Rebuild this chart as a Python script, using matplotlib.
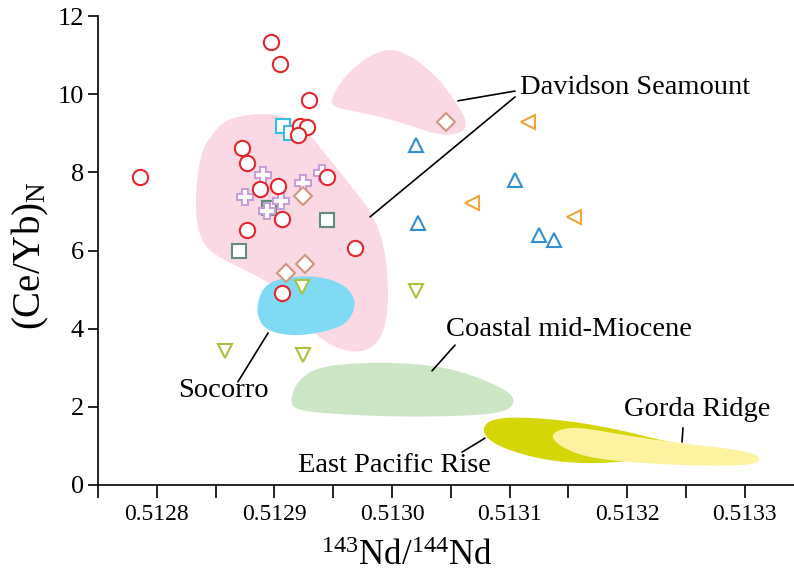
# Ce/Yb vs 143Nd/144Nd with source fields
import numpy as np
import matplotlib
matplotlib.use("Agg")
import matplotlib.pyplot as plt
from matplotlib.ticker import MultipleLocator

plt.rcParams['font.family'] = 'Liberation Serif'
plt.rcParams['mathtext.fontset'] = 'custom'
plt.rcParams['mathtext.rm'] = 'Liberation Serif'
plt.rcParams['mathtext.it'] = 'Liberation Serif:italic'

# sample groups: x = 143Nd/144Nd, y = (Ce/Yb)N
circ_x = [0.5128971, 0.5129048, 0.5129294, 0.5129218, 0.5129277, 0.5129201, 0.5128725, 0.5128767,
          0.5127857, 0.5129447, 0.5128878, 0.5129031, 0.5129065, 0.5128767, 0.5129685, 0.5129065]
circ_y = [11.34, 10.77, 9.85, 9.19, 9.16, 8.96, 8.62, 8.24,
          7.88, 7.88, 7.57, 7.65, 6.81, 6.53, 6.06, 4.91]

sqc_x = [0.5129073, 0.5129141]
sqc_y = [9.19, 9.01]

plus_x = [0.5128903, 0.5129243, 0.512875, 0.5129056, 0.5128937, 0.5129405]
plus_y = [7.93, 7.73, 7.37, 7.27, 7.01, 7.98]

sqg_x = [0.5128954, 0.5129447, 0.5128699]
sqg_y = [7.09, 6.78, 5.99]

dia_x = [0.5129243, 0.512926, 0.5129099, 0.5130459]
dia_y = [7.40, 5.66, 5.42, 9.29]

tdown_x = [0.5129235, 0.512858, 0.5129243, 0.5130204]
tdown_y = [5.07, 3.43, 3.33, 4.96]

tup_x = [0.5130204, 0.5131044, 0.5130221, 0.513125, 0.5131378]
tup_y = [8.70, 7.80, 6.70, 6.40, 6.27]

tleft_x = [0.5131157, 0.513068, 0.5131548]
tleft_y = [9.29, 7.22, 6.86]

# field outlines
dav_x = [0.512858, 0.5128793, 0.5129005, 0.5129175, 0.5129303, 0.5129473, 0.5129643, 0.5129813,
         0.5129923, 0.5129966, 0.5129966, 0.5129923, 0.5129813, 0.5129643, 0.5129473, 0.5129303,
         0.5129133, 0.5128963, 0.512875, 0.5128537, 0.5128393, 0.5128333, 0.5128333, 0.5128384,
         0.5128469]
dav_y = [9.34, 9.49, 9.49, 9.34, 8.96, 8.32, 7.68, 7.04,
         6.27, 5.37, 4.48, 3.84, 3.45, 3.40, 3.58, 3.97,
         4.73, 5.17, 5.50, 5.81, 6.14, 6.78, 7.68, 8.57,
         8.96]

dav2_x = [0.5129473, 0.51296, 0.5129813, 0.513, 0.5130196, 0.5130408, 0.5130561, 0.5130638,
          0.5130604, 0.5130408, 0.5130068, 0.5129728, 0.5129515]
dav2_y = [9.85, 10.49, 11.00, 11.18, 10.93, 10.36, 9.72, 9.29,
          9.01, 8.93, 9.29, 9.54, 9.65]

soc_x = [0.5128861, 0.512892, 0.512909, 0.5129345, 0.5129558, 0.5129677, 0.5129685, 0.51296,
         0.5129388, 0.5129133, 0.512892, 0.5128852]
soc_y = [4.73, 5.12, 5.32, 5.35, 5.19, 4.86, 4.48, 4.09,
         3.89, 3.81, 3.97, 4.35]

cmm_x = [0.5129133, 0.5129201, 0.5129388, 0.5129898, 0.5130408, 0.5130748, 0.5131003, 0.5131046,
         0.5130961, 0.5130663, 0.5130068, 0.5129473, 0.5129175]
cmm_y = [2.18, 2.69, 3.05, 3.15, 3.05, 2.74, 2.38, 2.10,
         1.87, 1.77, 1.74, 1.82, 1.92]

epr_x = [0.5130765, 0.513085, 0.5131088, 0.5131514, 0.5131939, 0.5132279, 0.5132619, 0.5132534,
         0.5132109, 0.5131726, 0.5131344, 0.5131003, 0.5130816]
epr_y = [1.46, 1.69, 1.74, 1.64, 1.41, 1.15, 0.95, 0.77,
         0.64, 0.54, 0.61, 0.87, 1.15]

gor_x = [0.5131344, 0.5131429, 0.5131599, 0.5132024, 0.5132449, 0.5132959, 0.5133146, 0.5133087,
         0.5132619, 0.5132109, 0.5131684, 0.5131446]
gor_y = [1.25, 1.43, 1.48, 1.25, 1.07, 0.90, 0.72, 0.51,
         0.49, 0.56, 0.69, 0.95]


def smooth(xs, ys, n=4):
    # Chaikin corner cutting on a closed outline
    pts = np.column_stack([xs, ys]).astype(float)
    for _ in range(n):
        nxt = np.roll(pts, -1, axis=0)
        q = 0.75 * pts + 0.25 * nxt
        r = 0.25 * pts + 0.75 * nxt
        out = np.empty((2 * len(pts), 2))
        out[0::2] = q
        out[1::2] = r
        pts = out
    return pts[:, 0], pts[:, 1]


fig = plt.figure(figsize=(7.94, 5.78), dpi=100)
ax = fig.add_axes([0.1234, 0.1609, 0.8766, 0.8114])

for fx, fy, col in [(dav_x, dav_y, '#fbd9e4'), (dav2_x, dav2_y, '#fbd9e4'),
                    (soc_x, soc_y, '#80daf4'), (cmm_x, cmm_y, '#cce6c5'),
                    (epr_x, epr_y, '#d4d606'), (gor_x, gor_y, '#fdf2a0')]:
    sx, sy = smooth(fx, fy)
    ax.fill(sx, sy, color=col, lw=0, zorder=1)

mk = dict(ls='none', mfc='white', mew=1.5, zorder=3)
ax.plot(sqg_x, sqg_y, 's', ms=10.5, mec='#5f8f7c', **mk)
ax.plot(plus_x, plus_y, 'P', ms=11, mec='#c79fd8', **mk)
ax.plot(dia_x, dia_y, 'D', ms=9, mec='#d39580', **mk)
ax.plot(sqc_x, sqc_y, 's', ms=10.5, mec='#33bfe0', **mk)
ax.plot(circ_x, circ_y, 'o', ms=11, mec='#e3262d', **mk)
ax.plot(tdown_x, tdown_y, 'v', ms=10, mec='#a9c23f', **mk)
ax.plot(tup_x, tup_y, '^', ms=10, mec='#2f8fd0', **mk)
ax.plot(tleft_x, tleft_y, '<', ms=10, mec='#f2a33a', **mk)

# labels and leader lines
fs = 20.5
ax.text(0.5131088, 10.16, 'Davidson Seamount', fontsize=fs, va='center', ha='left')
ax.text(0.5130459, 3.97, 'Coastal mid-Miocene', fontsize=fs, va='center', ha='left')
ax.text(0.512818, 2.43, 'Socorro', fontsize=fs, va='center', ha='left')
ax.text(0.51292, 0.49, 'East Pacific Rise', fontsize=fs, va='center', ha='left')
ax.text(0.5131973, 1.92, 'Gorda Ridge', fontsize=fs, va='center', ha='left')

leaders = [((0.5130561, 9.83), (0.5131046, 10.08)),
           ((0.5129813, 6.86), (0.5131046, 9.93)),
           ((0.513034, 2.92), (0.5130536, 3.58)),
           ((0.5128946, 3.89), (0.512869, 2.64)),
           ((0.5130791, 1.20), (0.5130595, 0.84)),
           ((0.5132474, 1.46), (0.5132466, 1.10))]
for a, b in leaders:
    ax.annotate('', xy=a, xytext=b, arrowprops=dict(arrowstyle='-', color='black', lw=1.2,
                                                     shrinkA=0, shrinkB=0), zorder=2)

ax.set_xlim(0.51275, 0.5133418)
ax.set_ylim(0, 12)
ax.spines['top'].set_visible(False)
ax.spines['right'].set_visible(False)
for s in ['left', 'bottom']:
    ax.spines[s].set_linewidth(1.2)

ax.xaxis.set_minor_locator(MultipleLocator(0.00005))
ax.set_xticks([0.5128, 0.5129, 0.5130, 0.5131, 0.5132, 0.5133])
ax.set_xticklabels(['0.5128', '0.5129', '0.5130', '0.5131', '0.5132', '0.5133'])
ax.set_yticks([0, 2, 4, 6, 8, 10, 12])
ax.tick_params(axis='x', which='both', direction='out', length=9, width=1.2, labelsize=17, pad=5)
ax.tick_params(axis='y', direction='out', length=7, width=1.2, labelsize=19, pad=3)

ax.set_xlabel(r'$^{143}$Nd/$^{144}$Nd', fontsize=25)
ax.xaxis.set_label_coords(0.444, -0.118)
ax.set_ylabel(r'(Ce/Yb)$_{\mathrm{N}}$', fontsize=28)
ax.yaxis.set_label_coords(-0.068, 0.49)

fig.savefig('out.png', dpi=100)
